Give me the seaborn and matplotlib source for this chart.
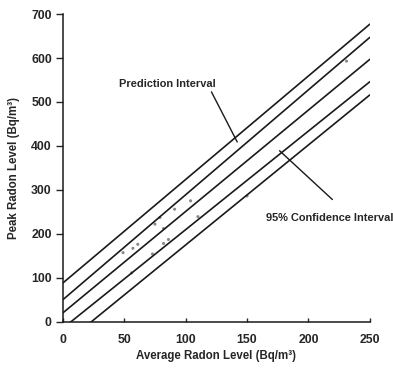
import matplotlib
matplotlib.use("Agg")
import matplotlib.pyplot as plt
import seaborn as sns
import pandas as pd

# line endpoints (x = 0 and x = 250)
x_ends = [0, 250]
upper_pi = [88, 677]
upper_ci = [50, 647]
fit_line = [20, 597]
lower_ci = [-15, 546]
lower_pi = [-53, 516]

# faint scatter of measurements
avg_radon = [49, 57, 61, 56, 75, 79, 73, 82, 82, 86, 91, 110, 104, 150, 231]
peak_radon = [157, 167, 176, 111, 222, 237, 154, 212, 178, 187, 256, 239, 275, 286, 593]

x_ticks = [0, 50, 100, 150, 200, 250]
y_ticks = [0, 100, 200, 300, 400, 500, 600, 700]

sns.set_style("ticks")
plt.rcParams['font.family'] = ['Liberation Sans', 'DejaVu Sans']
plt.rcParams['font.weight'] = 'bold'

fig = plt.figure(figsize=(3.93, 3.71), dpi=100)
ax = fig.add_axes([0.160, 0.133, 0.781, 0.829])

lines = pd.DataFrame({"x": x_ends, "upper_pi": upper_pi, "upper_ci": upper_ci,
                      "fit": fit_line, "lower_ci": lower_ci, "lower_pi": lower_pi})
for col in ["upper_pi", "upper_ci", "fit", "lower_ci", "lower_pi"]:
    sns.lineplot(data=lines, x="x", y=col, ax=ax, color="#1a1a1a", linewidth=1.2)

pts = pd.DataFrame({"avg": avg_radon, "peak": peak_radon})
sns.scatterplot(data=pts, x="avg", y="peak", ax=ax, color="#8a8a8a", s=5,
                edgecolor="none", zorder=1)

ax.set_xlim(0, 250)
ax.set_ylim(0, 700)
ax.set_xticks(x_ticks)
ax.set_yticks(y_ticks)
ax.tick_params(axis="x", direction="in", length=3, width=1, labelsize=8.8, pad=9)
ax.tick_params(axis="y", direction="out", length=5, width=1, labelsize=8.8, pad=3)
for lab in ax.get_xticklabels() + ax.get_yticklabels():
    lab.set_fontweight("bold")
sns.despine(ax=ax)
for sp in ["left", "bottom"]:
    ax.spines[sp].set_linewidth(1.1)
    ax.spines[sp].set_color("#1a1a1a")

ax.set_xlabel("Average Radon Level (Bq/m\u00b3)", fontsize=8.3, fontweight="bold", labelpad=3)
ax.set_ylabel("Peak Radon Level (Bq/m\u00b3)", fontsize=8.3, fontweight="bold", labelpad=8)

# callout labels and leader lines
ax.text(85, 541, "Prediction Interval", ha="center", va="center",
        fontsize=7.9, fontweight="bold")
ax.annotate("", xy=(142, 409), xytext=(121, 523),
            arrowprops=dict(arrowstyle="-", color="#1a1a1a", lw=1,
                            shrinkA=0, shrinkB=0))
ax.text(217, 237, "95% Confidence Interval", ha="center", va="center",
        fontsize=7.9, fontweight="bold", clip_on=False)
ax.annotate("", xy=(176.5, 389), xytext=(219.5, 278),
            arrowprops=dict(arrowstyle="-", color="#1a1a1a", lw=1,
                            shrinkA=0, shrinkB=0))

fig.savefig("out.png", dpi=100)
